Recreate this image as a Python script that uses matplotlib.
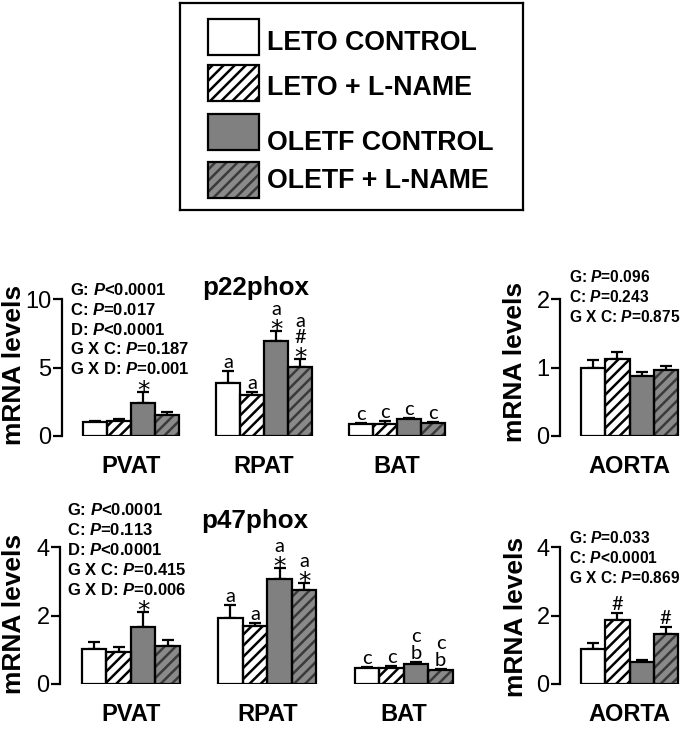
import numpy as np
import matplotlib
matplotlib.use('Agg')
import matplotlib.pyplot as plt
from matplotlib.patches import Rectangle

plt.rcParams['font.family'] = ['Liberation Sans', 'DejaVu Sans']
plt.rcParams['mathtext.fontset'] = 'custom'
plt.rcParams['mathtext.rm'] = 'Liberation Sans:bold'
plt.rcParams['mathtext.it'] = 'Liberation Sans:italic:bold'
plt.rcParams['hatch.linewidth'] = 1.8

# groups / tissues
series = ['LETO CONTROL', 'LETO + L-NAME', 'OLETF CONTROL', 'OLETF + L-NAME']
tissues = ['PVAT', 'RPAT', 'BAT']

# p22phox (rows = tissue, cols = group)
p22_mean = [[1.0, 1.1, 2.4, 1.55],
            [3.9, 3.0, 6.95, 5.05],
            [0.88, 0.88, 1.22, 0.93]]
p22_sem = [[0.1, 0.15, 0.8, 0.2],
           [0.85, 0.2, 0.7, 0.6],
           [0.04, 0.2, 0.12, 0.08]]
p22_marks = [['', '', '*', ''],
             ['a', 'a', 'a*', 'a#*'],
             ['c', 'c', 'c', 'c']]
p22_aorta_mean = [1.0, 1.12, 0.87, 0.96]
p22_aorta_sem = [0.11, 0.11, 0.07, 0.06]
p22_aorta_marks = ['', '', '', '']

# p47phox
p47_mean = [[1.01, 0.92, 1.67, 1.12],
            [1.94, 1.70, 3.07, 2.74],
            [0.46, 0.46, 0.58, 0.41]]
p47_sem = [[0.23, 0.15, 0.44, 0.16],
           [0.37, 0.07, 0.31, 0.22],
           [0.05, 0.06, 0.05, 0.03]]
p47_marks = [['', '', '*', ''],
             ['a', 'a', 'a*', 'a*'],
             ['c', 'c', 'cb', 'cb']]
p47_aorta_mean = [1.01, 1.87, 0.63, 1.46]
p47_aorta_sem = [0.18, 0.21, 0.07, 0.21]
p47_aorta_marks = ['', '#', '', '#']

# two-way anova results
p22_stats = ['G: $P$<0.0001', 'C: $P$=0.017', 'D: $P$<0.0001',
             'G X C: $P$=0.187', 'G X D: $P$=0.001']
p22_aorta_stats = ['G: $P$=0.096', 'C: $P$=0.243', 'G X C: $P$=0.875']
p47_stats = ['G: $P$<0.0001', 'C: $P$=0.113', 'D: $P$<0.0001',
             'G X C: $P$=0.415', 'G X D: $P$=0.006']
p47_aorta_stats = ['G: $P$=0.033', 'C: $P$<0.0001', 'G X C: $P$=0.869']

# bar styles: facecolor, hatch, hatch colour
styles = [('white', None, 'white'),
          ('white', '///', 'black'),
          ('#808080', None, '#808080'),
          ('#8a8a8a', '///', '#3a3a3a')]

# symbol settings: fontsize, family, glyph height px, glyph bottom above baseline px
sym_fmt = {'a': (14.5, 'Lato', 10, 0), 'b': (14.5, 'Lato', 14, 0),
           'c': (14.5, 'Lato', 10, 0), '#': (14.5, 'Lato', 13, 0),
           '*': (18, 'DejaVu Sans', 10, 9)}

W, H = 686, 733
BW = 0.18

fig = plt.figure(figsize=(W / 100, H / 100), dpi=100)


def frac(l, t, r, b):
    return [l / W, 1 - b / H, (r - l) / W, (b - t) / H]


def draw_panel(ax, centers, means, sems, marks, ylim, yticks, xlabels):
    means = np.atleast_2d(means)
    sems = np.atleast_2d(sems)
    for i, (fc, hatch, hc) in enumerate(styles):
        xs = np.asarray(centers) + (i - 1.5) * BW
        vals = means[:, i]
        errs = sems[:, i]
        ax.bar(xs, vals, BW, color=fc, edgecolor=hc, hatch=hatch, linewidth=0, zorder=2)
        ax.bar(xs, vals, BW, fill=False, edgecolor='black', linewidth=1.6, zorder=3)
        ax.errorbar(xs, vals, yerr=[np.zeros_like(errs), errs], fmt='none',
                    ecolor='black', elinewidth=1.6, capsize=4.5, capthick=1.6, zorder=1)
        for j, x in enumerate(xs):
            s = marks[j][i] if len(centers) > 1 else marks[i]
            bottom = 3
            for ch in reversed(s):
                size, fam, h, shift = sym_fmt[ch]
                ax.annotate(ch, (x, vals[j] + errs[j]), xytext=(0, bottom - shift),
                            textcoords='offset pixels', ha='center', va='baseline',
                            fontsize=size, family=fam, annotation_clip=False)
                bottom += h + 3
    ax.set_ylim(*ylim)
    ax.set_yticks(yticks)
    ax.set_xticks(centers, xlabels, fontsize=17, fontweight='bold')
    ax.tick_params(axis='x', length=0, pad=14)
    ax.tick_params(axis='y', length=6.5, width=1.6, pad=1, labelsize=17)
    for side in ['top', 'right', 'bottom']:
        ax.spines[side].set_visible(False)
    ax.spines['left'].set_linewidth(1.6)
    ax.patch.set_alpha(0)


def ylabel(ax, x, y):
    ax.set_ylabel('mRNA levels', fontsize=19, fontweight='bold', va='center')
    ax.yaxis.set_label_coords(x / W, 1 - y / H, transform=fig.transFigure)


def stats(lines, x, y0, step=19.8, size=12):
    for k, line in enumerate(lines):
        fig.text(x / W, 1 - (y0 + k * step) / H, line, fontsize=size,
                 fontweight='bold', ha='left', va='baseline')


pos = np.arange(len(tissues))

ax1 = fig.add_axes(frac(62, 299, 453, 436))
draw_panel(ax1, pos, p22_mean, p22_sem, p22_marks, (0, 10), [0, 5, 10], tissues)
ax1.set_xlim(-0.52, 2.42)
ylabel(ax1, 14, 365)

ax2 = fig.add_axes(frac(560, 299, 683, 436))
draw_panel(ax2, [0], p22_aorta_mean, p22_aorta_sem, p22_aorta_marks, (0, 2), [0, 1, 2], ['AORTA'])
ax2.set_xlim(-0.52, 0.40)
ylabel(ax2, 515, 362)

ax3 = fig.add_axes(frac(60, 547, 461, 684))
draw_panel(ax3, pos, p47_mean, p47_sem, p47_marks, (0, 4), [0, 2, 4], tissues)
ax3.set_xlim(-0.52, 2.42)
ylabel(ax3, 14, 614)

ax4 = fig.add_axes(frac(560, 547, 683, 684))
draw_panel(ax4, [0], p47_aorta_mean, p47_aorta_sem, p47_aorta_marks, (0, 4), [0, 2, 4], ['AORTA'])
ax4.set_xlim(-0.52, 0.40)
ylabel(ax4, 516, 617)

fig.text(256 / W, 1 - 295 / H, 'p22phox', fontsize=18.7, fontweight='bold', ha='center', va='baseline')
fig.text(255 / W, 1 - 528 / H, 'p47phox', fontsize=18.7, fontweight='bold', ha='center', va='baseline')

stats(p22_stats, 70, 295)
stats(p22_aorta_stats, 569, 282, 20, 11.2)
stats(p47_stats, 67, 515, 20)
stats(p47_aorta_stats, 569, 543, 20, 11.2)

# legend box drawn by hand
lax = fig.add_axes(frac(180, 3, 523, 210))
lax.set_xlim(0, 343)
lax.set_ylim(207, 0)
lax.set_xticks([])
lax.set_yticks([])
for sp in lax.spines.values():
    sp.set_linewidth(1.6)
patch_tops = [16, 62, 111, 159]
text_base = [47, 92, 147, 185]
for (fc, hatch, hc), name, t, tb in zip(styles, series, patch_tops, text_base):
    lax.add_patch(Rectangle((28, t), 51, 36, facecolor=fc, edgecolor=hc, hatch=hatch, linewidth=0))
    lax.add_patch(Rectangle((28, t), 51, 36, fill=False, edgecolor='black', linewidth=1.6))
    lax.text(87, tb, name, fontsize=19.3, fontweight='bold', ha='left', va='baseline')

fig.savefig('out.png', dpi=100)
